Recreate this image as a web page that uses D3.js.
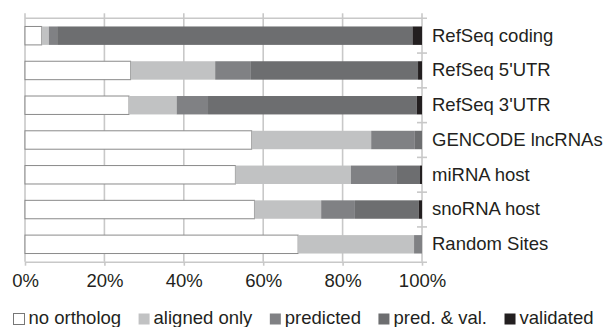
<!DOCTYPE html>
<html>
<head>
<meta charset="utf-8">
<script src="https://cdn.jsdelivr.net/npm/d3@7"></script>
<style>
  body { margin: 0; background: #fff; }
  text { font-family: "Liberation Sans", Arial, Helvetica, sans-serif; fill: #231f20; }
</style>
</head>
<body>
<script>
const width = 611;
const height = 327;

const categories = ["RefSeq coding", "RefSeq 5'UTR", "RefSeq 3'UTR", "GENCODE lncRNAs", "miRNA host", "snoRNA host", "Random Sites"];
const seriesNames = ["no ortholog", "aligned only", "predicted", "pred. & val.", "validated"];
const seriesColors = ["#ffffff", "#c1c2c3", "#808184", "#6d6e70", "#231f20"];

// percent share per category, same order as seriesNames
const noOrtholog = [4.2, 26.6, 26.2, 57.1, 53.0, 57.8, 68.8];
const alignedOnly = [1.8, 21.3, 12.0, 30.1, 29.1, 16.8, 29.2];
const predicted = [2.1, 9.0, 7.9, 11.0, 11.4, 8.5, 2.0];
const predAndVal = [89.5, 42.1, 52.6, 1.8, 6.0, 16.1, 0];
const validated = [2.4, 1.0, 1.3, 0, 0.5, 0.8, 0];

const xTicks = [0, 0.2, 0.4, 0.6, 0.8, 1];

const rows = categories.map((c, i) => ({
  category: c,
  "no ortholog": noOrtholog[i],
  "aligned only": alignedOnly[i],
  "predicted": predicted[i],
  "pred. & val.": predAndVal[i],
  "validated": validated[i]
}));

const x = d3.scaleLinear().domain([0, 1]).range([25, 422]);
const y = d3.scaleBand().domain(categories).range([18.3, 261.7])
  .paddingInner(0.47).paddingOuter(0.235);
const color = d3.scaleOrdinal().domain(seriesNames).range(seriesColors);

const svg = d3.select("body").append("svg")
  .attr("width", width)
  .attr("height", height);

// vertical gridlines (extend a little above the plot)
svg.append("g")
  .selectAll("line")
  .data(xTicks)
  .join("line")
  .attr("x1", d => x(d)).attr("x2", d => x(d))
  .attr("y1", 13.3).attr("y2", 261.7)
  .attr("stroke", "#c8c8c8")
  .attr("stroke-width", 1.6);

// top line
svg.append("line")
  .attr("x1", x(0)).attr("x2", x(1) + 5)
  .attr("y1", y.range()[0]).attr("y2", y.range()[0])
  .attr("stroke", "#c8c8c8").attr("stroke-width", 1.6);

// band separator ticks on the right axis
const bounds = d3.range(1, categories.length).map(i => y.range()[0] + i * y.step());
svg.append("g")
  .selectAll("line")
  .data(bounds)
  .join("line")
  .attr("x1", x(1) - 5).attr("x2", x(1) + 5)
  .attr("y1", d => d).attr("y2", d => d)
  .attr("stroke", "#c8c8c8").attr("stroke-width", 1.6);

// stacked bars
const stack = d3.stack().keys(seriesNames).value((d, k) => d[k] / 100);
const layers = stack(rows);

svg.append("g")
  .selectAll("g")
  .data(layers)
  .join("g")
  .attr("fill", d => color(d.key))
  .attr("stroke", d => d.key === "no ortholog" ? "#8a8a8a" : "none")
  .selectAll("rect")
  .data(d => d.filter(s => s[1] - s[0] > 0))
  .join("rect")
  .attr("x", d => x(d[0]))
  .attr("y", d => y(d.data.category))
  .attr("width", d => x(d[1]) - x(d[0]))
  .attr("height", y.bandwidth());

// bottom axis
const xAxis = svg.append("g")
  .attr("transform", `translate(0,${y.range()[1]})`)
  .call(d3.axisBottom(x).tickValues(xTicks).tickFormat(d3.format(".0%"))
    .tickSize(4).tickPadding(8).tickSizeOuter(0));
xAxis.select(".domain")
  .attr("d", `M${x(0)},0.5H${x(1) + 5}`)
  .attr("stroke", "#c8c8c8").attr("stroke-width", 1.6);
xAxis.selectAll(".tick line").attr("stroke", "#c8c8c8").attr("stroke-width", 1.6);
xAxis.selectAll("text")
  .style("font-size", "18.5px")
  .attr("fill", "#231f20");

// category labels on the right
const yAxis = svg.append("g")
  .attr("transform", `translate(${x(1)},0)`)
  .call(d3.axisRight(y).tickSize(0).tickPadding(10));
yAxis.select(".domain").remove();
yAxis.selectAll("text")
  .style("font-size", "18.5px")
  .attr("fill", "#231f20");

// legend
const legend = svg.append("g").attr("transform", "translate(0,313)");
let lx = 13;
seriesNames.forEach(name => {
  legend.append("rect")
    .attr("x", lx + 0.5).attr("y", 0.5)
    .attr("width", 11).attr("height", 11)
    .attr("fill", color(name))
    .attr("stroke", name === "no ortholog" ? "#777" : "none");
  const t = legend.append("text")
    .attr("x", lx + 15.5)
    .attr("y", 10.5)
    .style("font-size", "18.5px")
    .text(name);
  lx += 15.5 + t.node().getComputedTextLength() + 17;
});
</script>
</body>
</html>
